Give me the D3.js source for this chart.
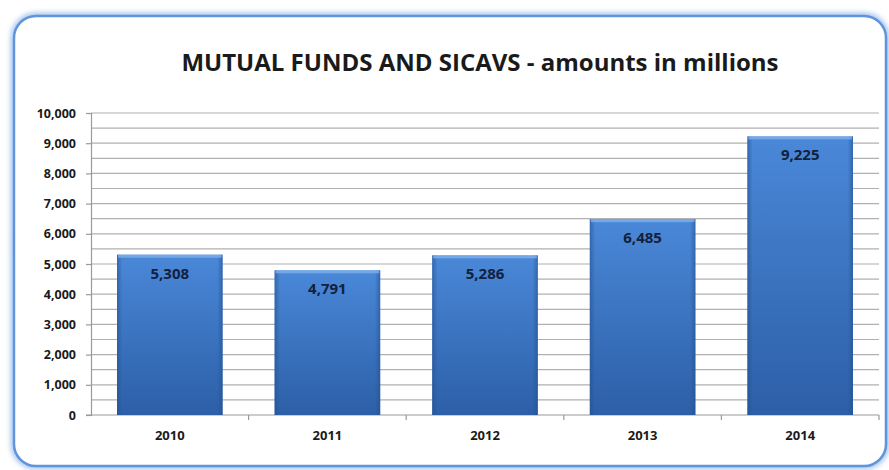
<!DOCTYPE html>
<html>
<head>
<meta charset="utf-8">
<script src="https://cdn.jsdelivr.net/npm/d3@7"></script>
<style>
  html, body { margin: 0; padding: 0; background: #ffffff; }
  svg { display: block; }
  text { font-family: "Open Sans", "Liberation Sans", sans-serif; }
</style>
</head>
<body>
<svg id="chart" width="889" height="470"></svg>
<script>
// Data: mutual funds and SICAVs, amounts in millions
const years = ["2010", "2011", "2012", "2013", "2014"];
const amounts = [5308, 4791, 5286, 6485, 9225];
const yTicks = [0, 1000, 2000, 3000, 4000, 5000, 6000, 7000, 8000, 9000, 10000];
const gridValues = d3.range(0, 10001, 500);
const title = "MUTUAL FUNDS AND SICAVS - amounts in millions";

const svg = d3.select("#chart");
const plot = { left: 91, right: 879, top: 113, bottom: 415 };

const defs = svg.append("defs");

// soft glow around the frame
const glow = defs.append("filter").attr("id", "frameGlow")
  .attr("x", "-5%").attr("y", "-5%").attr("width", "110%").attr("height", "110%");
glow.append("feGaussianBlur").attr("in", "SourceGraphic").attr("stdDeviation", 2.5);

// bar gradient: lighter at top, deeper blue at bottom
const grad = defs.append("linearGradient").attr("id", "barFill")
  .attr("x1", 0).attr("y1", 0).attr("x2", 0).attr("y2", 1);
grad.append("stop").attr("offset", "0%").attr("stop-color", "#4a88d8");
grad.append("stop").attr("offset", "100%").attr("stop-color", "#2c5fa7");

const edge = defs.append("linearGradient").attr("id", "barEdge")
  .attr("x1", 0).attr("y1", 0).attr("x2", 1).attr("y2", 0);
edge.append("stop").attr("offset", "0%").attr("stop-color", "#24518f").attr("stop-opacity", 0.6);
edge.append("stop").attr("offset", "5%").attr("stop-color", "#24518f").attr("stop-opacity", 0);
edge.append("stop").attr("offset", "95%").attr("stop-color", "#24518f").attr("stop-opacity", 0);
edge.append("stop").attr("offset", "100%").attr("stop-color", "#24518f").attr("stop-opacity", 0.6);

// chart frame
svg.append("rect")
  .attr("x", 14).attr("y", 16).attr("width", 872).attr("height", 450)
  .attr("rx", 22).attr("ry", 22)
  .attr("fill", "none").attr("stroke", "#a9c6ee").attr("stroke-width", 7)
  .attr("filter", "url(#frameGlow)");
svg.append("rect")
  .attr("x", 14).attr("y", 16).attr("width", 872).attr("height", 450)
  .attr("rx", 22).attr("ry", 22)
  .attr("fill", "#ffffff").attr("stroke", "#5f95dc").attr("stroke-width", 2.5);

// title
svg.append("text")
  .attr("x", 480).attr("y", 71)
  .attr("text-anchor", "middle")
  .attr("font-size", 24).attr("font-weight", 700)
  .attr("fill", "#1a1a1a")
  .text(title);

// scales
const x = d3.scaleBand().domain(years).range([plot.left, plot.right]).paddingInner(0.33).paddingOuter(0.165);
const xOuter = d3.scaleBand().domain(years).range([plot.left, plot.right]).padding(0);
const y = d3.scaleLinear().domain([0, 10000]).range([plot.bottom, plot.top]);

// gridlines every 500
svg.append("g").selectAll("line").data(gridValues.filter(v => v > 0)).join("line")
  .attr("x1", plot.left).attr("x2", plot.right)
  .attr("y1", d => y(d)).attr("y2", d => y(d))
  .attr("stroke", "#b0b0b0").attr("stroke-width", 1.2);

// y axis
const yAxis = d3.axisLeft(y).tickValues(yTicks).tickSize(5).tickPadding(10)
  .tickFormat(d3.format(","));
const gy = svg.append("g").attr("transform", `translate(${plot.left},0)`).call(yAxis);
gy.select(".domain").attr("stroke", "#9a9a9a").attr("stroke-width", 1.2);
gy.selectAll(".tick line").attr("stroke", "#9a9a9a").attr("stroke-width", 1.2);
gy.selectAll(".tick text")
  .attr("font-size", 12.5).attr("font-weight", 700).attr("fill", "#1a1a1a")
  .attr("font-family", "'Open Sans', sans-serif");

// x axis baseline with category separators
const gx = svg.append("g").attr("transform", `translate(0,${plot.bottom})`);
gx.append("line").attr("x1", plot.left - 5).attr("x2", plot.right)
  .attr("stroke", "#9a9a9a").attr("stroke-width", 1.2);
gx.selectAll("line.sep").data(years).join("line").attr("class", "sep")
  .attr("x1", d => xOuter(d) + xOuter.bandwidth()).attr("x2", d => xOuter(d) + xOuter.bandwidth())
  .attr("y1", 0).attr("y2", 5)
  .attr("stroke", "#9a9a9a").attr("stroke-width", 1.2);
gx.selectAll("text").data(years).join("text")
  .attr("x", d => x(d) + x.bandwidth() / 2).attr("y", 25)
  .attr("text-anchor", "middle")
  .attr("font-size", 13).attr("font-weight", 700).attr("fill", "#1a1a1a")
  .text(d => d);

// bars
const bars = svg.append("g").selectAll("g").data(years.map((yr, i) => ({ yr, v: amounts[i] }))).join("g");
bars.append("rect")
  .attr("x", d => x(d.yr)).attr("y", d => y(d.v))
  .attr("width", x.bandwidth()).attr("height", d => y(0) - y(d.v))
  .attr("fill", "url(#barFill)");
bars.append("rect")
  .attr("x", d => x(d.yr)).attr("y", d => y(d.v))
  .attr("width", x.bandwidth()).attr("height", d => y(0) - y(d.v))
  .attr("fill", "url(#barEdge)");
// bevel highlight on top edge
bars.append("rect")
  .attr("x", d => x(d.yr) + 1).attr("y", d => y(d.v))
  .attr("width", x.bandwidth() - 2).attr("height", 3)
  .attr("fill", "#7fb0ea").attr("opacity", 0.8);

// value labels
bars.append("text")
  .attr("x", d => x(d.yr) + x.bandwidth() / 2).attr("y", d => y(d.v) + 24)
  .attr("text-anchor", "middle")
  .attr("font-size", 15).attr("font-weight", 700).attr("fill", "#12213c")
  .text(d => d3.format(",")(d.v));
</script>
</body>
</html>
